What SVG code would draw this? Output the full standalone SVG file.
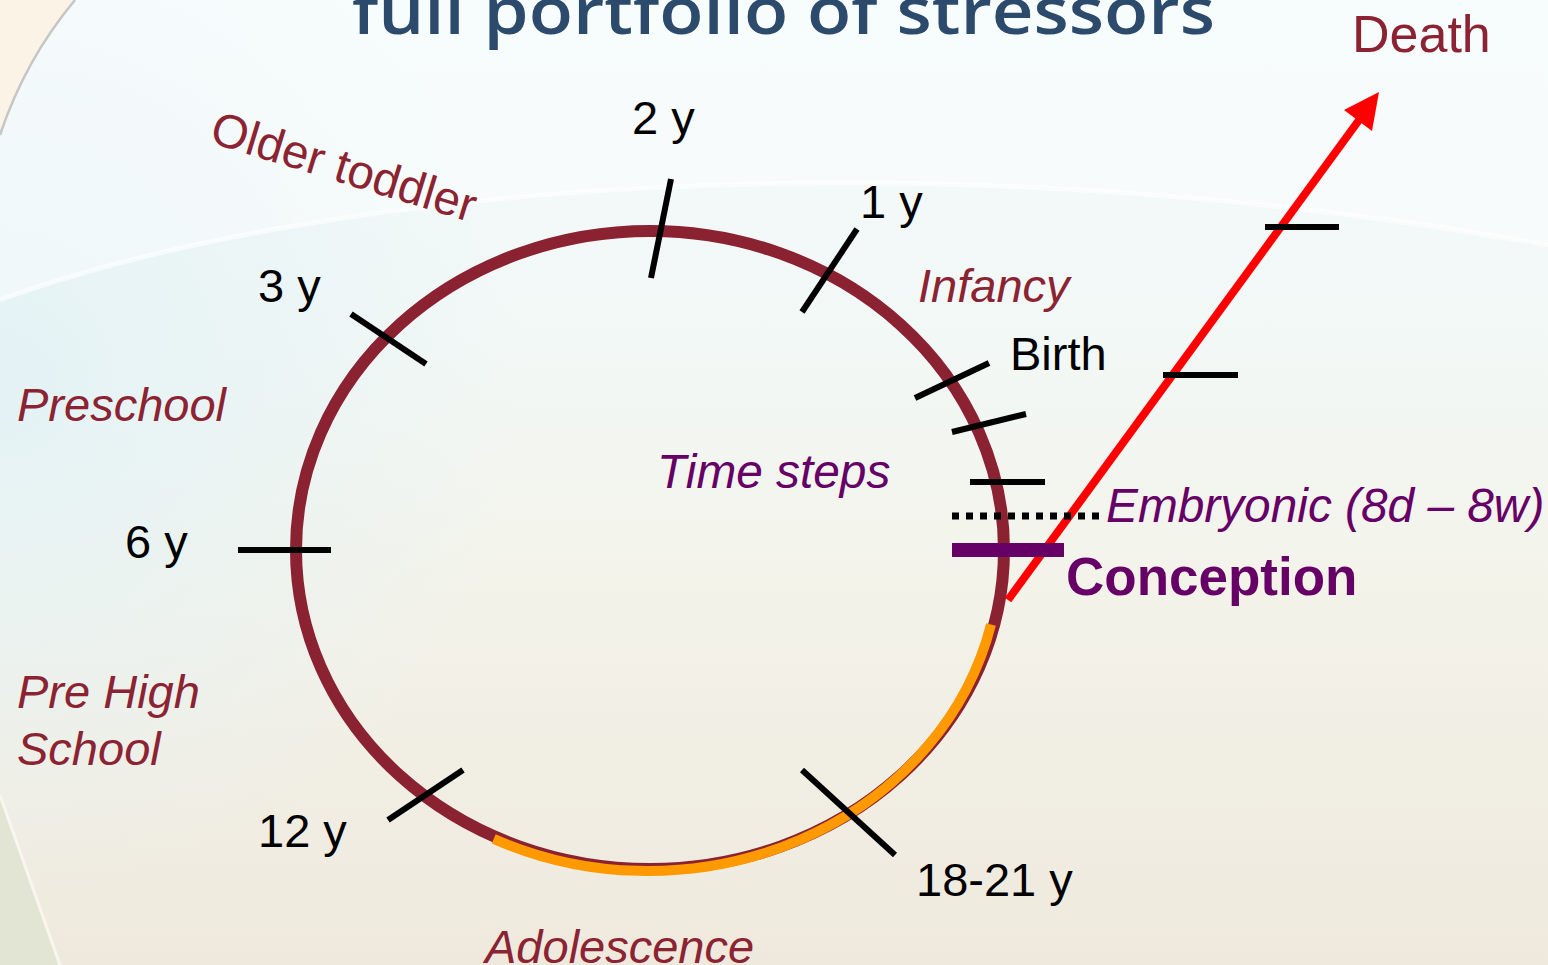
<svg xmlns="http://www.w3.org/2000/svg" width="1548" height="965" viewBox="0 0 1548 965">
<defs>
<linearGradient id="bg" x1="0" y1="0" x2="0" y2="1">
<stop offset="0" stop-color="#f2fafb"/>
<stop offset="0.35" stop-color="#f2f8f6"/>
<stop offset="0.6" stop-color="#f3f3ea"/>
<stop offset="1" stop-color="#efe9dd"/>
</linearGradient>
<radialGradient id="blue" cx="0" cy="380" r="520" gradientUnits="userSpaceOnUse">
<stop offset="0" stop-color="#e4f2f5" stop-opacity="1"/>
<stop offset="1" stop-color="#e4f2f5" stop-opacity="0"/>
</radialGradient>
<style>
.lbl{font-family:"Liberation Sans",Arial,sans-serif;font-size:47px;fill:#000}
.phase{font-family:"Liberation Sans",Arial,sans-serif;font-size:47px;font-style:italic;fill:#8b2332}
.purp{font-family:"Liberation Sans",Arial,sans-serif;font-size:47.8px;font-style:italic;fill:#660066}
.tick{stroke:#000;stroke-width:6;fill:none}
</style>
</defs>
<g id="background">
<rect x="0" y="0" width="1548" height="965" fill="url(#bg)"/>
<rect x="0" y="0" width="1548" height="965" fill="url(#blue)"/>
<path d="M0,0 H1548 V245 C900,130 300,190 0,300 Z" fill="#ffffff" opacity="0.4"/>
<path d="M0,300 C300,190 900,130 1548,245" stroke="#ffffff" stroke-width="5" fill="none" opacity="0.6"/>
<path d="M0,0 H75 Q25,60 0,135 Z" fill="#fbf4e6"/>
<path d="M75,0 Q25,60 0,135" stroke="#c6c6c4" stroke-width="2.5" fill="none"/>
<path d="M0,795 Q30,880 60,965 L0,965 Z" fill="#e3e5d4"/>
<path d="M0,795 Q30,880 60,965" stroke="#f8f6ee" stroke-width="3" fill="none"/>
</g>
<g id="title">
<text x="352" y="34" font-family="'Open Sans',sans-serif" font-weight="600" font-size="66" fill="#2c4a6b" textLength="863" lengthAdjust="spacingAndGlyphs">full portfolio of stressors</text>
</g>
<g id="ring">
<ellipse cx="650" cy="550" rx="354" ry="319" fill="none" stroke="#8b2232" stroke-width="12"/>
<path d="M991,624.5 A352 318 0 0 1 493.7,838.8" fill="none" stroke="#ff9900" stroke-width="10"/>
</g>
<g id="connectors">
<line x1="1008" y1="600" x2="1362" y2="116" stroke="#ff0000" stroke-width="8"/>
<polygon points="1379,92 1344,110 1372,131" fill="#ff0000"/>
<line class="tick" x1="1265" y1="227" x2="1339" y2="227"/>
<line class="tick" x1="1163" y1="375" x2="1238" y2="375"/>
</g>
<g id="ticks">
<line class="tick" x1="671" y1="179" x2="651" y2="278"/>
<line class="tick" x1="857" y1="229" x2="802" y2="312"/>
<line class="tick" x1="351" y1="314" x2="426" y2="364"/>
<line class="tick" x1="915" y1="398" x2="989" y2="363"/>
<line class="tick" x1="952" y1="432" x2="1026" y2="414"/>
<line class="tick" x1="970" y1="482" x2="1045" y2="482"/>
<line class="tick" x1="238" y1="550" x2="331" y2="550"/>
<line class="tick" x1="388" y1="820" x2="463" y2="770"/>
<line class="tick" x1="802" y1="770" x2="895" y2="855"/>
<line x1="952" y1="516" x2="1104" y2="516" stroke="#000" stroke-width="7" stroke-dasharray="7 7"/>
<line x1="952" y1="550" x2="1064" y2="550" stroke="#660066" stroke-width="14"/>
</g>
<g id="labels">
<text class="lbl" x="632" y="134">2 y</text>
<text class="lbl" x="860" y="218">1 y</text>
<text class="lbl" x="258" y="302">3 y</text>
<text class="lbl" x="1010" y="370">Birth</text>
<text class="lbl" x="125" y="558">6 y</text>
<text class="lbl" x="258" y="847">12 y</text>
<text class="lbl" x="916" y="896">18-21 y</text>
<text x="1352" y="52" font-family="'Liberation Sans',Arial,sans-serif" font-size="52" fill="#8b2332">Death</text>
<text class="phase" x="918" y="302">Infancy</text>
<text class="phase" x="17" y="421">Preschool</text>
<text class="phase" x="17" y="708">Pre High</text>
<text class="phase" x="17" y="765">School</text>
<text class="phase" x="485" y="963">Adolescence</text>
<text x="208" y="142" transform="rotate(17 208 142)" font-family="'Liberation Sans',Arial,sans-serif" font-size="47.5" fill="#8b2332">Older toddler</text>
<text class="purp" x="657" y="488">Time steps</text>
<text class="purp" x="1106" y="522">Embryonic (8d – 8w)</text>
<text x="1066" y="595" font-family="'Liberation Sans',Arial,sans-serif" font-size="53" font-weight="bold" fill="#660066">Conception</text>
</g>
</svg>
